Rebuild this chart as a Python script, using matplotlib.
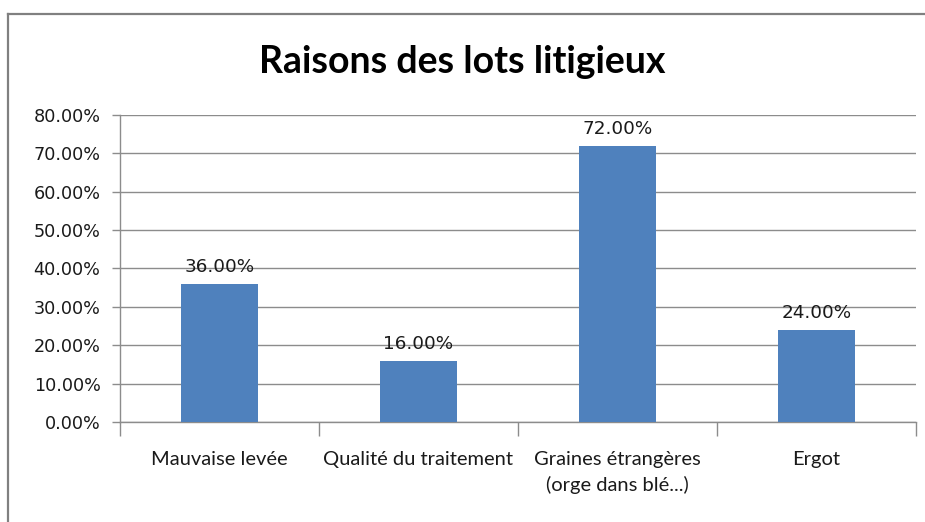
import numpy as np
import matplotlib.pyplot as plt
from matplotlib.lines import Line2D

categories = ["Mauvaise levée", "Qualité du traitement",
              "Graines étrangères\n(orge dans blé...)", "Ergot"]
values = [36.0, 16.0, 72.0, 24.0]
y_ticks = [0, 10, 20, 30, 40, 50, 60, 70, 80]

bar_color = "#4F81BD"
grid_color = "#8C8C8C"

fig = plt.figure(figsize=(9.25, 5.22), dpi=100)
ax = fig.add_axes([0.1297, 0.1916, 0.8606, 0.5881])

x = np.arange(len(categories))
ax.bar(x, values, width=0.39, color=bar_color, zorder=3)

for xi, v in zip(x, values):
    ax.text(xi, v + 2.0, f"{v:.2f}%", ha="center", va="bottom",
            fontsize=13.2, family="DejaVu Sans", color="#1a1a1a")

ax.set_xlim(-0.5, len(categories) - 0.5)
ax.set_ylim(0, 80)
ax.set_yticks(y_ticks)
ax.set_yticklabels([f"{t:.2f}%" for t in y_ticks], fontsize=12.7,
                   family="DejaVu Sans", color="#1a1a1a")
ax.yaxis.grid(True, color=grid_color, linewidth=1, zorder=0)

# category labels centred, tick marks between categories
ax.set_xticks(x)
ax.set_xticklabels(categories, fontsize=14.5, family="Lato", color="#1a1a1a",
                   linespacing=1.55)
ax.tick_params(axis="x", length=0, pad=21)
ax.set_xticks(np.arange(len(categories) + 1) - 0.5, minor=True)
ax.tick_params(axis="x", which="minor", length=10, color=grid_color, width=1)
ax.tick_params(axis="y", length=6, color=grid_color, width=1, pad=8)

for s in ["top", "right"]:
    ax.spines[s].set_visible(False)
for s in ["left", "bottom"]:
    ax.spines[s].set_color(grid_color)
    ax.spines[s].set_linewidth(1)

fig.text(0.5, 0.882, "Raisons des lots litigieux", ha="center", va="center",
         fontsize=27, fontweight="bold", family="Lato", color="black")

# chart area border (top and left edges visible)
fig.add_artist(Line2D([8 / 925, 1], [1 - 14 / 522, 1 - 14 / 522],
                      color="#808080", linewidth=1.6))
fig.add_artist(Line2D([8 / 925, 8 / 925], [0, 1 - 14 / 522],
                      color="#808080", linewidth=1.6))

fig.savefig("out.png", dpi=100)
